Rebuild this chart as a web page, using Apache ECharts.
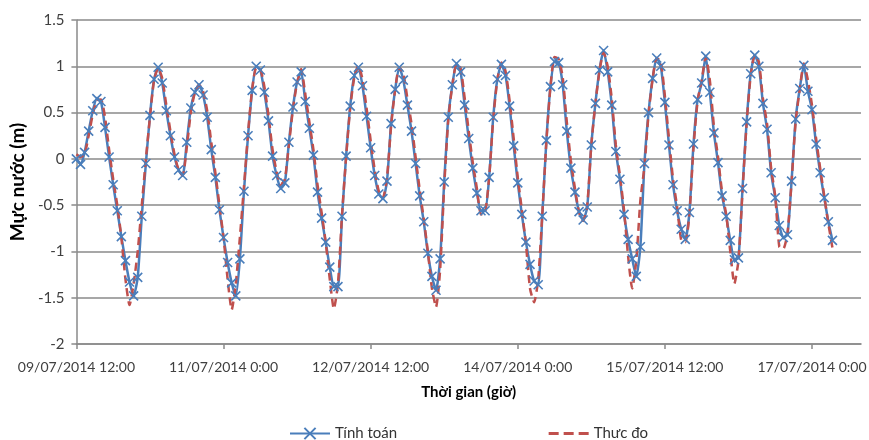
<!DOCTYPE html>
<html>
<head>
<meta charset="utf-8">
<script src="https://cdn.jsdelivr.net/npm/echarts@6/dist/echarts.min.js"></script>
<style>
  html, body { margin: 0; padding: 0; background: #fff; }
  #chart { width: 869px; height: 440px; }
</style>
</head>
<body>
<div id="chart"></div>
<script>
  // hourly water level (m), starting 09/07/2014 12:00
  const tinhToan = [
    0.00, -0.06, 0.07, 0.30, 0.52, 0.65, 0.62, 0.34, 0.02, -0.28,
    -0.56, -0.84, -1.10, -1.33, -1.48, -1.28, -0.62, -0.05, 0.47, 0.86,
    0.99, 0.82, 0.52, 0.25, 0.02, -0.12, -0.18, 0.18, 0.55, 0.72,
    0.80, 0.69, 0.45, 0.10, -0.20, -0.55, -0.85, -1.12, -1.34, -1.48,
    -1.08, -0.35, 0.25, 0.74, 1.00, 0.96, 0.72, 0.41, 0.03, -0.18,
    -0.32, -0.26, 0.18, 0.56, 0.83, 0.94, 0.62, 0.33, 0.04, -0.36,
    -0.64, -0.90, -1.17, -1.38, -1.38, -0.62, 0.03, 0.57, 0.90, 0.99,
    0.79, 0.46, 0.12, -0.18, -0.38, -0.43, -0.24, 0.38, 0.75, 0.99,
    0.85, 0.58, 0.30, -0.05, -0.40, -0.68, -1.02, -1.27, -1.42, -1.08,
    -0.25, 0.45, 0.80, 1.03, 0.94, 0.58, 0.22, -0.10, -0.37, -0.56,
    -0.56, -0.20, 0.45, 0.86, 1.02, 0.90, 0.57, 0.14, -0.26, -0.60,
    -0.90, -1.14, -1.32, -1.36, -0.62, 0.20, 0.78, 1.05, 1.04, 0.80,
    0.30, -0.10, -0.36, -0.57, -0.66, -0.52, 0.15, 0.60, 0.96, 1.17,
    0.94, 0.58, 0.08, -0.22, -0.60, -0.87, -1.08, -1.27, -0.95, -0.05,
    0.50, 0.87, 1.09, 1.00, 0.61, 0.15, -0.28, -0.56, -0.76, -0.87,
    -0.58, 0.16, 0.64, 0.82, 1.11, 0.72, 0.28, -0.04, -0.40, -0.62,
    -0.88, -1.09, -1.07, -0.32, 0.40, 0.92, 1.12, 1.00, 0.60, 0.32,
    -0.15, -0.42, -0.72, -0.85, -0.82, -0.24, 0.43, 0.76, 1.01, 0.73,
    0.53, 0.16, -0.15, -0.42, -0.68, -0.88
  ];
  const thucDo = [
    0.05, 0.02, 0.05, 0.25, 0.48, 0.63, 0.64, 0.45, 0.10, -0.22,
    -0.50, -0.85, -1.30, -1.58, -1.35, -1.00, -0.50, 0.00, 0.45, 0.85,
    0.98, 0.87, 0.58, 0.30, 0.05, -0.12, -0.18, 0.12, 0.50, 0.72,
    0.80, 0.73, 0.52, 0.18, -0.15, -0.50, -0.85, -1.30, -1.63, -1.35,
    -0.85, -0.30, 0.28, 0.75, 0.98, 0.97, 0.78, 0.47, 0.10, -0.14,
    -0.28, -0.22, 0.15, 0.54, 0.82, 0.97, 0.70, 0.40, 0.10, -0.28,
    -0.58, -0.90, -1.30, -1.62, -1.35, -0.60, 0.02, 0.55, 0.88, 1.01,
    0.86, 0.55, 0.20, -0.12, -0.35, -0.42, -0.20, 0.35, 0.75, 0.99,
    0.92, 0.65, 0.38, 0.02, -0.33, -0.65, -1.00, -1.40, -1.60, -1.20,
    -0.30, 0.42, 0.80, 1.02, 0.98, 0.66, 0.30, -0.04, -0.32, -0.60,
    -0.58, -0.20, 0.43, 0.85, 1.04, 0.95, 0.63, 0.22, -0.20, -0.55,
    -0.92, -1.40, -1.55, -1.30, -0.60, 0.18, 0.78, 1.10, 1.08, 0.88,
    0.40, -0.02, -0.32, -0.58, -0.67, -0.50, 0.15, 0.60, 0.95, 1.15,
    1.00, 0.65, 0.15, -0.18, -0.55, -1.05, -1.40, -1.10, -0.45, -0.08,
    0.48, 0.86, 1.09, 1.05, 0.68, 0.22, -0.22, -0.52, -0.88, -0.90,
    -0.60, 0.12, 0.62, 0.85, 1.10, 0.85, 0.35, 0.02, -0.36, -0.60,
    -1.00, -1.35, -1.10, -0.35, 0.38, 0.90, 1.12, 1.05, 0.65, 0.38,
    -0.10, -0.40, -0.95, -0.97, -0.80, -0.25, 0.40, 0.75, 1.03, 0.85,
    0.58, 0.22, -0.10, -0.40, -0.70, -0.96
  ];
  const tickHours = [0, 36, 72, 108, 144, 180];
  const tickLabels = [
    '09/07/2014 12:00', '11/07/2014 0:00', '12/07/2014 12:00',
    '14/07/2014 0:00', '15/07/2014 12:00', '17/07/2014 0:00'
  ];

  const font = 'Lato, "Open Sans", sans-serif';
  const gridColor = '#8a8a8a';

  let myChart = echarts.init(document.getElementById('chart'));
  myChart.setOption({
    animation: false,
    textStyle: { fontFamily: font },
    grid: { left: 68, right: 7, top: 20, bottom: 96, containLabel: false },
    legend: {
      left: 289,
      top: 426,
      padding: 0,
      itemGap: 150,
      itemWidth: 40,
      itemHeight: 14,
      textStyle: { fontFamily: font, fontSize: 15, color: '#333' },
      data: [
        'Tính toán',
        // dashed line only, no marker in the key
        { name: 'Thưc đo', itemStyle: { opacity: 0 }, lineStyle: { width: 3, type: [10, 5] } }
      ]
    },
    xAxis: {
      type: 'value',
      min: 0,
      max: 192,
      interval: 36,
      name: 'Thời gian (giờ)',
      nameLocation: 'middle',
      nameGap: 41,
      nameTextStyle: { fontFamily: font, fontSize: 15, fontWeight: 'bold', color: '#000' },
      axisLine: { onZero: false, lineStyle: { color: gridColor, width: 1.5 } },
      axisTick: { show: true, length: 5, customValues: tickHours, lineStyle: { color: gridColor, width: 1.5 } },
      axisLabel: {
        customValues: tickHours,
        margin: 16,
        fontSize: 14,
        color: '#404040',
        formatter: function (v) {
          let i = tickHours.indexOf(v);
          return i >= 0 ? tickLabels[i] : '';
        }
      },
      splitLine: { show: false }
    },
    yAxis: {
      type: 'value',
      min: -2,
      max: 1.5,
      interval: 0.5,
      name: 'Mực nước (m)',
      nameLocation: 'middle',
      nameGap: 42,
      nameTextStyle: { fontFamily: font, fontSize: 19, fontWeight: 'bold', color: '#000' },
      axisLine: { show: true, lineStyle: { color: gridColor, width: 1.5 } },
      axisTick: { show: true, length: 5, lineStyle: { color: gridColor, width: 1.5 } },
      axisLabel: { margin: 12, fontSize: 15, color: '#404040' },
      splitLine: { lineStyle: { color: gridColor, width: 1.5 } }
    },
    series: [
      {
        name: 'Tính toán',
        type: 'line',
        smooth: 0.2,
        symbol: 'path://M0,0L10,10M10,0L0,10',
        symbolSize: 9,
        showAllSymbol: true,
        itemStyle: { color: '#4A7EBB', borderColor: '#4A7EBB', borderWidth: 1.6 },
        lineStyle: { color: '#4A7EBB', width: 2.5 },
        data: tinhToan.map((v, i) => [i, v])
      },
      {
        name: 'Thưc đo',
        type: 'line',
        smooth: 0.2,
        symbol: 'none',
        itemStyle: { color: '#C0504D' },
        lineStyle: { color: '#C0504D', width: 2.5, type: [8, 5] },
        data: thucDo.map((v, i) => [i, v])
      }
    ]
  });
</script>
</body>
</html>
